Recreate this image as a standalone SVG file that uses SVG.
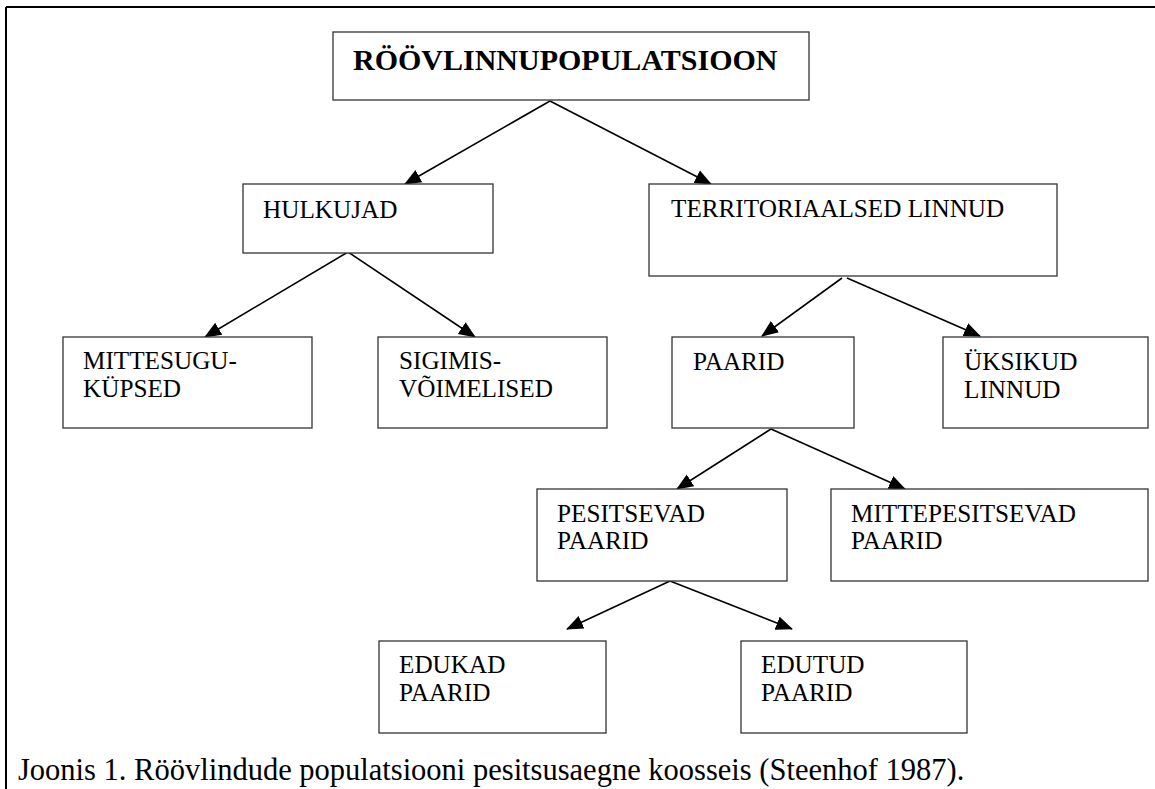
<svg xmlns="http://www.w3.org/2000/svg" width="1155" height="789" viewBox="0 0 1155 789">
<style>
.box{fill:#fff;stroke:#333;stroke-width:1.3}
text{font-family:"Liberation Serif","Times New Roman",Times,serif;fill:#000}
.lbl{font-size:25.2px}
.ttl{font-size:30px;font-weight:bold}
.cap{font-size:30.5px}
.c{stroke:#000;stroke-width:1.6;fill:none;marker-end:url(#ah)}
</style>
<defs>
<marker id="ah" markerUnits="userSpaceOnUse" markerWidth="18" markerHeight="18" viewBox="0 0 18 18" refX="16" refY="9" orient="auto">
<path d="M0,2 L17,9 L0,16 Z" fill="#000"/>
</marker>
</defs>
<rect x="0" y="0" width="1155" height="789" fill="#fff"/>
<g id="frame">
<line x1="6" y1="7" x2="1155" y2="7" stroke="#000" stroke-width="2"/>
<line x1="6" y1="7" x2="6" y2="789" stroke="#000" stroke-width="2"/>
</g>
<g id="connectors">
<line class="c" x1="550" y1="101" x2="405" y2="184"/>
<line class="c" x1="550" y1="101" x2="711" y2="184"/>
<line class="c" x1="348" y1="252" x2="205" y2="337"/>
<line class="c" x1="348" y1="252" x2="475" y2="337"/>
<line class="c" x1="842" y1="278" x2="762" y2="336"/>
<line class="c" x1="847" y1="278" x2="980" y2="336"/>
<line class="c" x1="771" y1="429" x2="677" y2="489"/>
<line class="c" x1="771" y1="429" x2="905" y2="489"/>
<line class="c" x1="670" y1="581" x2="567" y2="629"/>
<line class="c" x1="670" y1="581" x2="792" y2="629"/>
</g>
<g id="n_root">
<rect class="box" x="333" y="32" width="476" height="68"/>
<text class="ttl" x="353" y="70">RÖÖVLINNUPOPULATSIOON</text>
</g>
<g id="n_hulkujad">
<rect class="box" x="243" y="184" width="250" height="69"/>
<text class="lbl" x="263" y="218">HULKUJAD</text>
</g>
<g id="n_territ">
<rect class="box" x="649" y="184" width="408" height="92"/>
<text class="lbl" x="671" y="217">TERRITORIAALSED LINNUD</text>
</g>
<g id="n_mittesugu">
<rect class="box" x="63" y="337" width="249" height="91"/>
<text class="lbl" x="83" y="369">MITTESUGU-</text>
<text class="lbl" x="83" y="397">KÜPSED</text>
</g>
<g id="n_sigimis">
<rect class="box" x="378" y="337" width="229" height="91"/>
<text class="lbl" x="399" y="369">SIGIMIS-</text>
<text class="lbl" x="399" y="397">VÕIMELISED</text>
</g>
<g id="n_paarid">
<rect class="box" x="672" y="337" width="182" height="91"/>
<text class="lbl" x="693" y="370">PAARID</text>
</g>
<g id="n_uksikud">
<rect class="box" x="943" y="337" width="205" height="91"/>
<text class="lbl" x="964" y="370">ÜKSIKUD</text>
<text class="lbl" x="964" y="398">LINNUD</text>
</g>
<g id="n_pesitsevad">
<rect class="box" x="537" y="489" width="250" height="92"/>
<text class="lbl" x="557" y="522">PESITSEVAD</text>
<text class="lbl" x="557" y="549">PAARID</text>
</g>
<g id="n_mittepesitsevad">
<rect class="box" x="831" y="489" width="317" height="92"/>
<text class="lbl" x="851" y="522">MITTEPESITSEVAD</text>
<text class="lbl" x="851" y="549">PAARID</text>
</g>
<g id="n_edukad">
<rect class="box" x="379" y="641" width="227" height="92"/>
<text class="lbl" x="399" y="673">EDUKAD</text>
<text class="lbl" x="399" y="701">PAARID</text>
</g>
<g id="n_edutud">
<rect class="box" x="741" y="641" width="226" height="92"/>
<text class="lbl" x="761" y="673">EDUTUD</text>
<text class="lbl" x="761" y="701">PAARID</text>
</g>
<text class="cap" x="18" y="780">Joonis 1. Röövlindude populatsiooni pesitsusaegne koosseis (Steenhof 1987).</text>
</svg>
